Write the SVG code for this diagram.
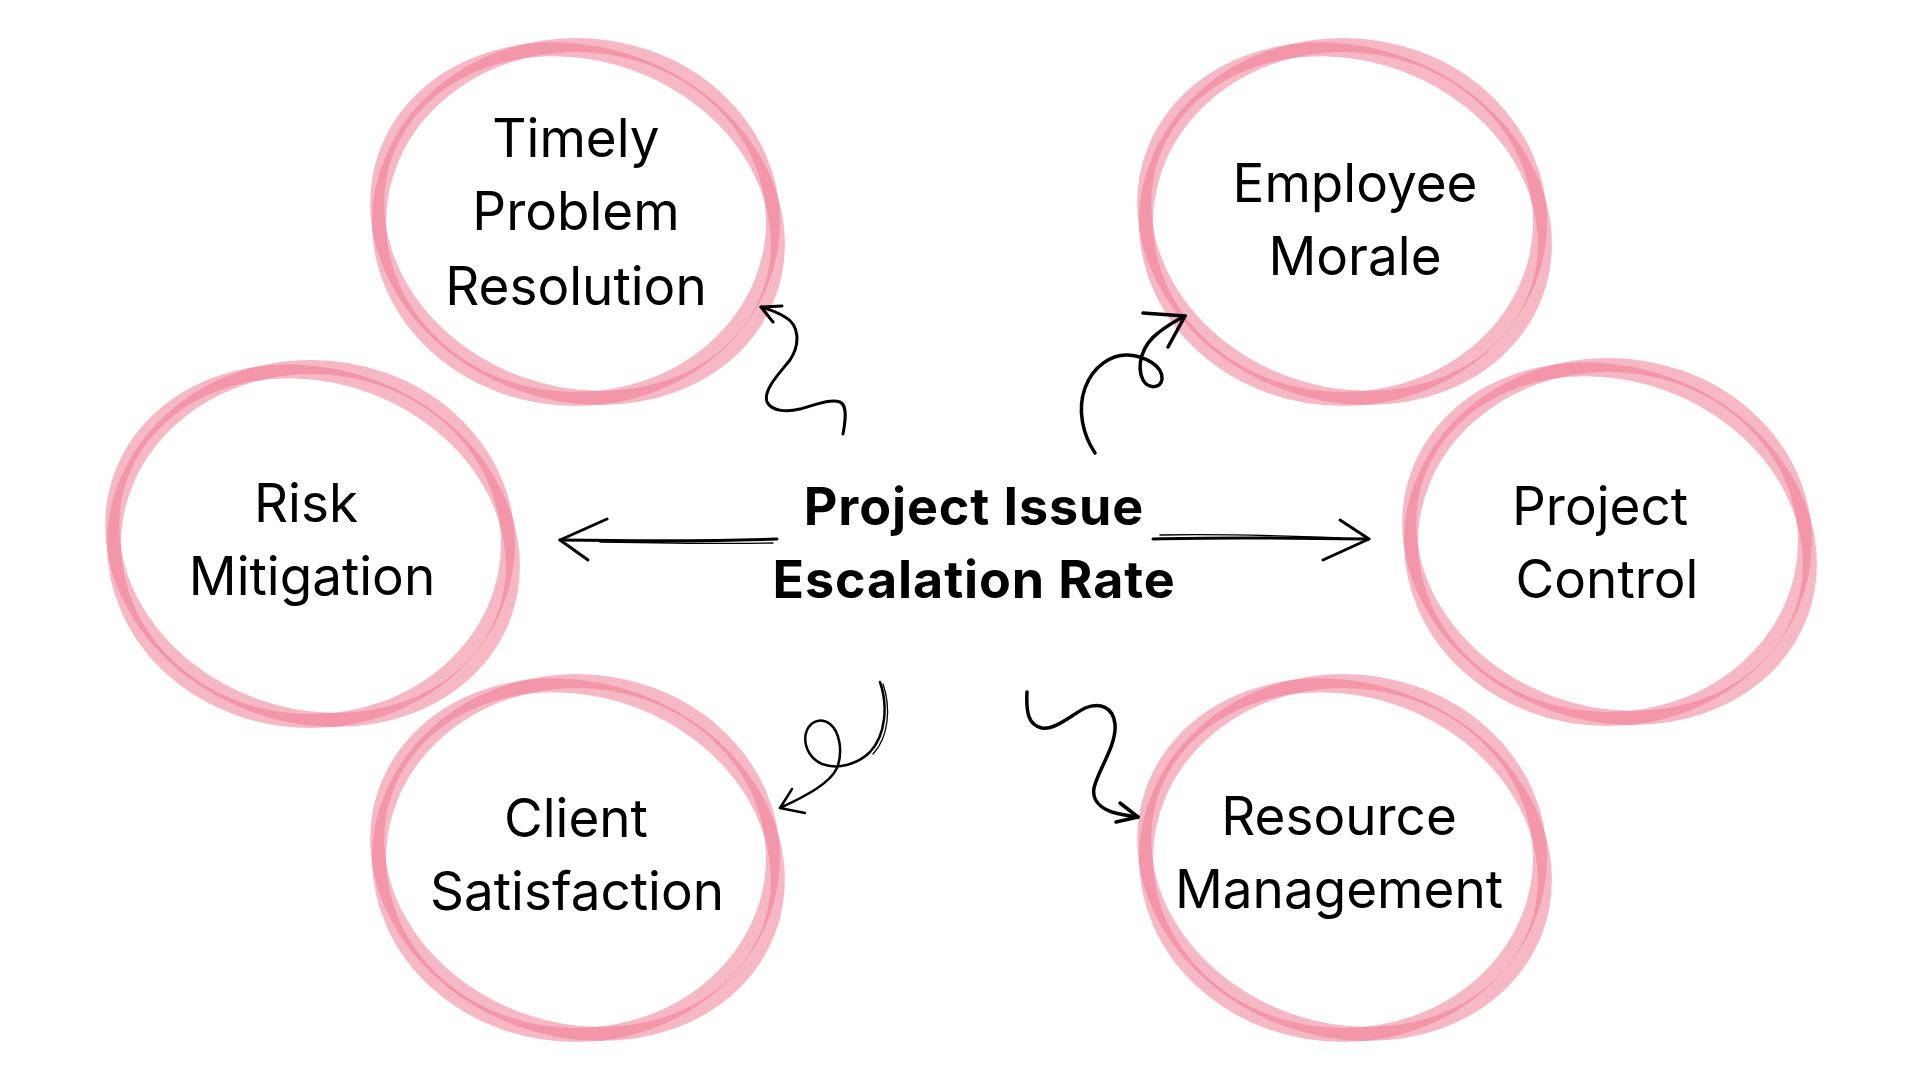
<svg xmlns="http://www.w3.org/2000/svg" width="1920" height="1080" viewBox="0 0 1920 1080">
  <style>
    .ring { fill: none; stroke: #EF7690; stroke-opacity: 0.52; stroke-width: 14; }
    .lbl { font-family: Inter, "Open Sans", "Liberation Sans", sans-serif; font-size: 53px; fill: #000; text-anchor: middle; }
    .title { font-family: Inter, "Open Sans", "Liberation Sans", sans-serif; font-size: 52px; font-weight: 700; fill: #000; text-anchor: middle; letter-spacing: 0.9px; }
    .con { fill: none; stroke: #000; stroke-width: 3; stroke-linecap: round; stroke-linejoin: round; }
    .con-thin { fill: none; stroke: #000; stroke-width: 1.3; stroke-linecap: round; }
  </style>
  <defs>
    <g id="loop">
      <ellipse class="ring" cx="0" cy="0" rx="197" ry="177"/>
      <ellipse class="ring" cx="2" cy="1" rx="204" ry="170" transform="rotate(20)"/>
    </g>
  </defs>
  <rect width="1920" height="1080" fill="#fff"/>

  <g id="node-timely">
    <use href="#loop" transform="translate(576,222)"/>
    <text class="lbl" x="576" y="157">Timely</text>
    <text class="lbl" x="576" y="230">Problem</text>
    <text class="lbl" x="576" y="305">Resolution</text>
  </g>
  <g id="node-employee">
    <use href="#loop" transform="translate(1343,222)"/>
    <text class="lbl" x="1355" y="202">Employee</text>
    <text class="lbl" x="1355" y="275">Morale</text>
  </g>
  <g id="node-risk">
    <use href="#loop" transform="translate(311,544)"/>
    <text class="lbl" x="306" y="522">Risk</text>
    <text class="lbl" x="312" y="595">Mitigation</text>
  </g>
  <g id="node-control">
    <use href="#loop" transform="translate(1608,542)"/>
    <text class="lbl" x="1600" y="525">Project</text>
    <text class="lbl" x="1607" y="598">Control</text>
  </g>
  <g id="node-client">
    <use href="#loop" transform="translate(576,858)"/>
    <text class="lbl" x="576" y="837">Client</text>
    <text class="lbl" x="577" y="910">Satisfaction</text>
  </g>
  <g id="node-resource">
    <use href="#loop" transform="translate(1343,858)"/>
    <text class="lbl" x="1339" y="835">Resource</text>
    <text class="lbl" x="1339" y="908">Management</text>
  </g>
  <g id="node-center">
    <text class="title" x="974" y="525">Project Issue</text>
    <text class="title" x="974" y="598">Escalation Rate</text>
  </g>

  <g id="connectors">
    <!-- left -->
    <path class="con" d="M777,539 C720,541 640,541 560,540"/>
    <path class="con-thin" d="M773,543 C720,544 660,543 600,542"/>
    <path class="con" d="M607,519 L560,540 L588,560"/>
    <!-- right -->
    <path class="con" d="M1153,539 C1220,537 1300,538 1369,539"/>
    <path class="con-thin" d="M1160,535 C1220,534 1290,536 1340,538"/>
    <path class="con" d="M1340,520 L1369,539 L1323,560"/>
    <!-- top-left squiggle -->
    <path class="con" d="M843,434 C846,418 847,405 840,402 C830,398 812,406 800,409 C788,412 772,412 767,402 C763,390 778,375 790,360 C800,345 800,325 785,317 C777,312 768,309 761,307"/>
    <path class="con" d="M782,306 L761,307 L773,322"/>
    <!-- top-right loop -->
    <path class="con" style="stroke-width:3.5" d="M1095,453 C1083,435 1077,410 1085,388 C1093,366 1112,354 1128,355 C1145,356 1163,366 1162,379 C1161,389 1148,389 1143,380 C1136,366 1142,345 1158,333 C1168,325 1177,320 1185,316"/>
    <path class="con" style="stroke-width:3.5" d="M1143,313 L1185,316 L1168,347"/>
    <!-- bottom-left loop -->
    <path class="con" style="stroke-width:2.5" d="M880,682 C888,705 886,735 870,752 C858,764 838,770 822,764 C808,758 802,742 807,730 C812,720 822,718 830,724 C840,732 843,752 837,768 C830,783 808,795 780,808"/>
    <path class="con-thin" d="M883,684 C891,707 889,737 873,754"/>
    <path class="con" style="stroke-width:2.5" d="M792,789 L780,808 L805,813"/>
    <!-- bottom-right squiggle -->
    <path class="con" style="stroke-width:3.5" d="M1027,692 C1026,712 1028,725 1042,728 C1055,730 1070,716 1085,708 C1100,702 1113,707 1115,724 C1117,745 1098,770 1094,788 C1092,800 1100,808 1112,812 C1122,815 1130,816 1138,817"/>
    <path class="con" style="stroke-width:3.5" d="M1120,803 L1138,817 L1116,822"/>
  </g>
</svg>
